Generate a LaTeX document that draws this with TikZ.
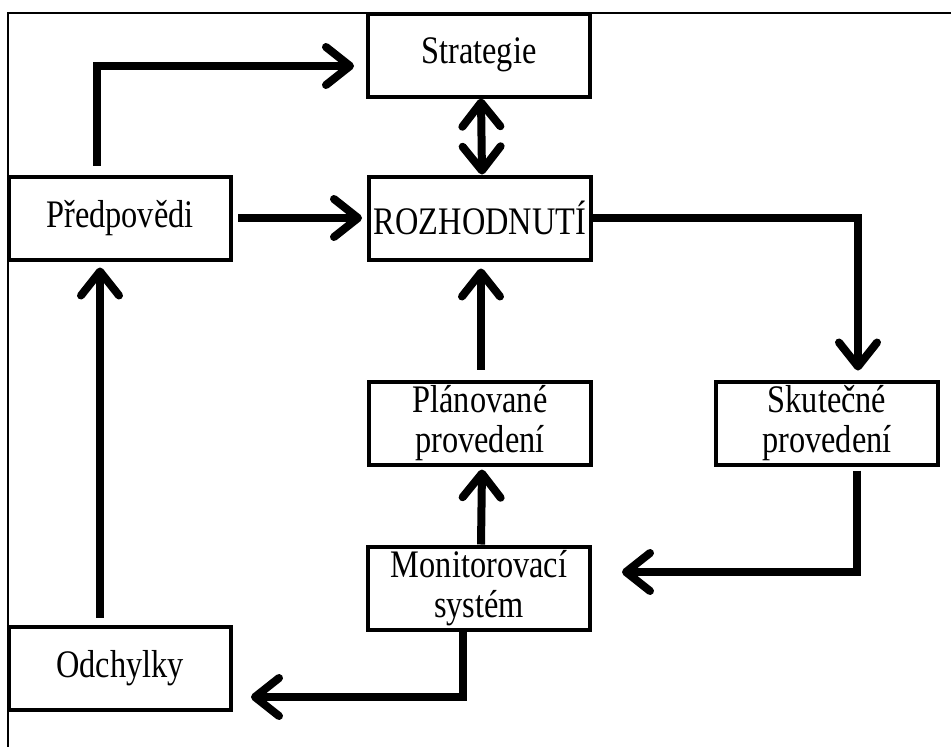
\documentclass[tikz,border=0pt]{standalone}
\usepackage{fontspec}
\setmainfont{Liberation Serif}[FakeStretch=0.83]
\usepackage{tikz}
\usetikzlibrary{calc,arrows.meta}
\usepackage{xcolor}
\newcommand{\boxfont}{\fontsize{39pt}{40pt}\selectfont}
\tikzset{
  stage/.style={draw=black, line width=4pt, minimum width=222pt, minimum height=83pt,
    inner sep=0pt, align=center, font=\boxfont},
  flow/.style={-{Straight Barb[length=24pt, width=38pt, round]}, line width=8pt,
    draw=black, line join=miter},
  twoway/.style={flow, {Straight Barb[length=24pt, width=38pt, round]}-{Straight Barb[length=24pt, width=38pt, round]}},
  frame/.style={line width=2pt, draw=black},
}

\begin{document}
\begin{tikzpicture}[x=1pt, y=-1pt]  % pixel grid, y downwards
  \useasboundingbox (0,0) rectangle (951,747);
  % open outer frame (left and top edge only)
  \draw[frame] (8,747) |- (951,13);
  % boxes
  \node[stage] (strat) at (479,55)  {Strategie};
  \node[stage] (rozh)  at (480,218) {ROZHODNUTÍ};
  \node[stage] (pred)  at (120,218) {Předpovědi};
  \node[stage] (plan)  at (480,423) {Plánované\\provedení};
  \node[stage] (skut)  at (827,423) {Skutečné\\provedení};
  \node[stage] (moni)  at (479,588) {Monitorovací\\systém};
  \node[stage] (odch)  at (120,668) {Odchylky};
  % connectors
  \draw[flow] ([xshift=-23pt, yshift=9pt]pred.north) |- ([xshift=-12pt, yshift=-11pt]strat.west);
  \draw[twoway] ([xshift=2pt]strat.south) -- ([xshift=2pt]rozh.north);
  \draw[flow] ([xshift=5pt]pred.east) -- ([xshift=-5pt]rozh.west);
  \draw[flow] (rozh.east) -| ([xshift=31pt, yshift=9pt]skut.north);
  \draw[flow] ([xshift=1pt, yshift=10pt]plan.north) -- ([xshift=1pt, yshift=-7pt]rozh.south);
  \draw[flow] ([xshift=2pt]moni.north) -- ([xshift=2pt, yshift=-3pt]plan.south);
  \draw[flow] ([xshift=30pt, yshift=-4pt]skut.south) |- ([xshift=30pt, yshift=16pt]moni.east);
  \draw[flow] ([xshift=-16pt]moni.south) |- ([xshift=18pt, yshift=-29pt]odch.east);
  \draw[flow] ([xshift=-20pt, yshift=7pt]odch.north) -- ([xshift=-20pt, yshift=-6pt]pred.south);
\end{tikzpicture}
\end{document}
